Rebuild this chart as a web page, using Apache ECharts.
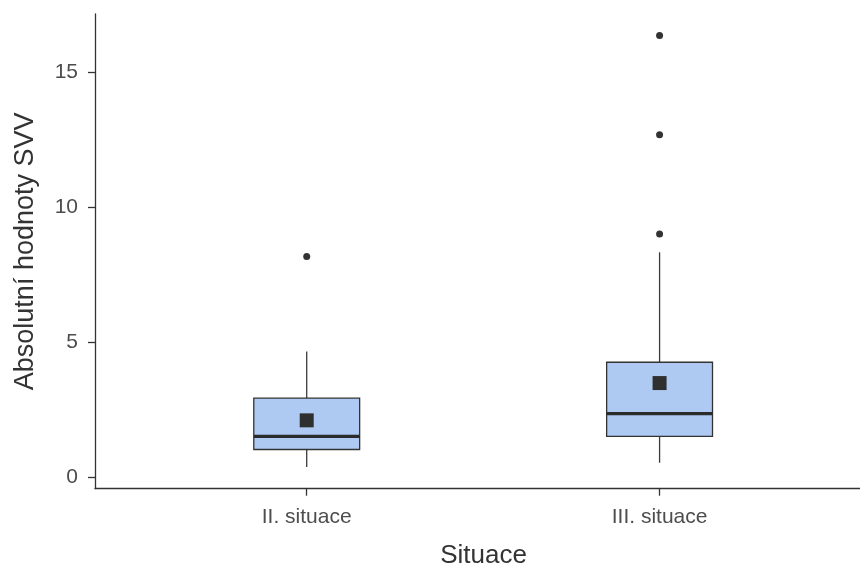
<!DOCTYPE html>
<html>
<head>
<meta charset="utf-8">
<script src="https://cdn.jsdelivr.net/npm/echarts@6/dist/echarts.min.js"></script>
<style>
  html, body { margin: 0; padding: 0; background: #ffffff; }
  #chart { width: 860px; height: 567px; }
</style>
</head>
<body>
<div id="chart"></div>
<script>
// Categories and box statistics (Absolutní hodnoty SVV)
const categories = ['II. situace', 'III. situace'];
const lowerWhisker = [0.37, 0.53];
const q1 = [1.02, 1.51];
const median = [1.51, 2.35];
const q3 = [2.92, 4.25];
const upperWhisker = [4.65, 8.32];
const means = [2.10, 3.48];
const outliersII = [8.16];
const outliersIII = [9.0, 12.67, 16.34];
const yTickValues = [0, 5, 10, 15];

const FONT = '"Liberation Sans", Arial, sans-serif';
const BOX_WIDTH = 0.3;

const boxData = categories.map((c, i) =>
  [i + 1, lowerWhisker[i], q1[i], median[i], q3[i], upperWhisker[i]]);
const meanData = means.map((m, i) => [i + 1, m]);
const outlierData = [
  ...outliersII.map(v => [1, v]),
  ...outliersIII.map(v => [2, v])
];

const chart = echarts.init(document.getElementById('chart'), null, { renderer: 'canvas' });

chart.setOption({
  backgroundColor: '#ffffff',
  animation: false,
  grid: {
    left: 95, right: 0, top: 14, bottom: 78.3,
    containLabel: false,
    outerBoundsMode: 'none'
  },
  xAxis: {
    type: 'value',
    // the panel runs past the right edge of the figure
    min: 0.4,
    max: 2.568,
    name: 'Situace',
    nameLocation: 'middle',
    nameGap: 54,
    nameTextStyle: { fontFamily: FONT, fontSize: 26, color: '#333333', padding: [0, 0, 0, 12] },
    splitLine: { show: false },
    axisLine: { show: true, onZero: false, lineStyle: { color: '#333333', width: 1.3 } },
    axisTick: { show: true, length: 7, customValues: [1, 2], lineStyle: { color: '#333333', width: 1.3 } },
    axisLabel: {
      customValues: [1, 2],
      margin: 18,
      fontFamily: FONT,
      fontSize: 21,
      color: '#4d4d4d',
      formatter: v => categories[Math.round(v) - 1] || ''
    }
  },
  yAxis: {
    type: 'value',
    min: -0.43,
    max: 17.14,
    name: 'Absolutní hodnoty SVV',
    nameLocation: 'middle',
    nameGap: 56,
    nameRotate: 90,
    nameTextStyle: { fontFamily: FONT, fontSize: 27, color: '#333333' },
    splitLine: { show: false },
    axisLine: { show: true, onZero: false, lineStyle: { color: '#333333', width: 1.3 } },
    axisTick: { show: true, length: 7, customValues: yTickValues, lineStyle: { color: '#333333', width: 1.3 } },
    axisLabel: {
      customValues: yTickValues,
      margin: 17,
      fontFamily: FONT,
      fontSize: 21,
      color: '#4d4d4d'
    }
  },
  series: [
    {
      type: 'custom',
      name: 'box',
      data: boxData,
      encode: { x: 0, y: [1, 2, 3, 4, 5] },
      renderItem: function (params, api) {
        const x = api.value(0);
        const lo = api.coord([x, api.value(1)]);
        const b1 = api.coord([x, api.value(2)]);
        const md = api.coord([x, api.value(3)]);
        const b3 = api.coord([x, api.value(4)]);
        const hi = api.coord([x, api.value(5)]);
        const half = api.size([BOX_WIDTH, 0])[0] / 2;
        const whisker = { stroke: '#3a3a3a', lineWidth: 1.3 };
        return {
          type: 'group',
          children: [
            { type: 'line', shape: { x1: lo[0], y1: lo[1], x2: b1[0], y2: b1[1] }, style: whisker },
            { type: 'line', shape: { x1: b3[0], y1: b3[1], x2: hi[0], y2: hi[1] }, style: whisker },
            {
              type: 'rect',
              shape: { x: b3[0] - half, y: b3[1], width: half * 2, height: b1[1] - b3[1] },
              style: { fill: '#aecaf2', stroke: '#333333', lineWidth: 1.3 }
            },
            {
              type: 'line',
              shape: { x1: md[0] - half, y1: md[1], x2: md[0] + half, y2: md[1] },
              style: { stroke: '#2b2b2b', lineWidth: 3.2 }
            }
          ]
        };
      },
      z: 2
    },
    {
      type: 'scatter',
      name: 'outliers',
      data: outlierData,
      symbol: 'circle',
      symbolSize: 7,
      itemStyle: { color: '#333333', opacity: 1 },
      z: 3
    },
    {
      type: 'scatter',
      name: 'mean',
      data: meanData,
      symbol: 'rect',
      symbolSize: 14,
      itemStyle: { color: '#2f2f2f', opacity: 1 },
      z: 4
    }
  ]
});
</script>
</body>
</html>
